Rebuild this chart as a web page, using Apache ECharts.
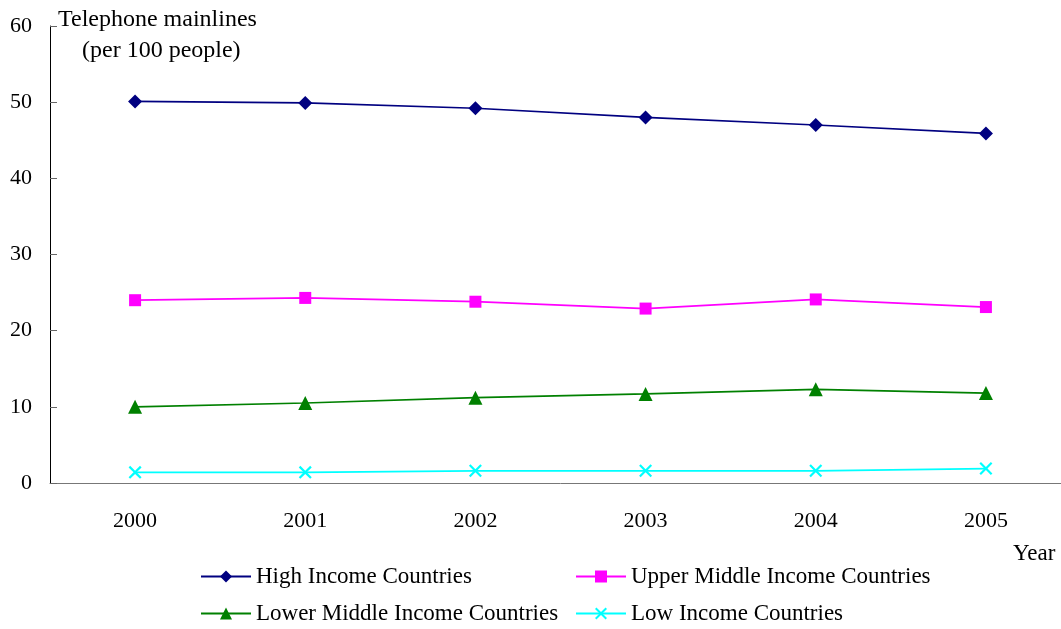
<!DOCTYPE html>
<html><head><meta charset="utf-8">
<script src="https://cdn.jsdelivr.net/npm/echarts@6/dist/echarts.min.js"></script>
<style>html,body{margin:0;padding:0;background:#fff;overflow:hidden}#c{width:1090px;height:629px}</style>
</head><body><div id="c"></div>
<script>
const years = ['2000','2001','2002','2003','2004','2005'];
const highIncome = [50.1, 49.9, 49.2, 48.0, 47.0, 45.9];
const upperMiddle = [24.0, 24.3, 23.8, 22.9, 24.1, 23.1];
const lowerMiddle = [10.0, 10.5, 11.2, 11.7, 12.3, 11.8];
const lowIncome = [1.4, 1.4, 1.6, 1.6, 1.6, 1.9];
const yTicks = [0, 10, 20, 30, 40, 50, 60];

const font = 'Liberation Serif';
const xPath = 'path://M0,1.2L1.2,0L5,3.8L8.8,0L10,1.2L6.2,5L10,8.8L8.8,10L5,6.2L1.2,10L0,8.8L3.8,5Z';
function s(name, data, color, symbol, size){
  return {name, type:'line', data, symbol, symbolSize:size, color,
    lineStyle:{color, width:1.7}, itemStyle:{color}, animation:false};
}
const legendText = {fontFamily:font, fontSize:23, color:'#000', lineHeight:23};
const chart = echarts.init(document.getElementById('c'));
chart.setOption({
  animation:false,
  textStyle:{fontFamily:font},
  grid:{left:50, top:26, width:1021, bottom:146, containLabel:false},
  xAxis:{type:'category', data:years, boundaryGap:true,
    axisLine:{lineStyle:{color:'#777', width:1}},
    axisTick:{inside:true, length:7, lineStyle:{color:'#333'}},
    axisLabel:{fontFamily:font, fontSize:22, color:'#000', margin:27},
    splitLine:{show:false}},
  yAxis:{type:'value', min:0, max:60, interval:10,
    axisLine:{show:true, lineStyle:{color:'#000', width:1}},
    axisTick:{show:true, inside:true, length:7, lineStyle:{color:'#666'}},
    axisLabel:{fontFamily:font, fontSize:22, color:'#000', margin:18,
      formatter: v => yTicks.includes(v) ? String(v) : ''},
    splitLine:{show:false}},
  legend:[
    {data:['High Income Countries','Lower Middle Income Countries'], orient:'vertical',
     left:200, top:565, height:64, padding:0, itemWidth:50, itemHeight:15, itemGap:14,
     textStyle:legendText},
    {data:['Upper Middle Income Countries','Low Income Countries'], orient:'vertical',
     left:575, top:565, height:64, padding:0, itemWidth:50, itemHeight:15, itemGap:14,
     textStyle:legendText}
  ],
  graphic:[
    {type:'text', left:58, top:8, style:{text:'Telephone mainlines', font:'24px "Liberation Serif"', fill:'#000'}},
    {type:'text', left:82, top:39, style:{text:'(per 100 people)', font:'24px "Liberation Serif"', fill:'#000'}},
    {type:'text', left:1013, top:542, style:{text:'Year', font:'23px "Liberation Serif"', fill:'#000'}}
  ],
  series:[
    s('High Income Countries', highIncome, '#000080', 'diamond', 14),
    s('Upper Middle Income Countries', upperMiddle, '#FF00FF', 'rect', 12),
    s('Lower Middle Income Countries', lowerMiddle, '#008000', 'triangle', 14),
    s('Low Income Countries', lowIncome, '#00FFFF', xPath, 13)
  ]
});
</script></body></html>
